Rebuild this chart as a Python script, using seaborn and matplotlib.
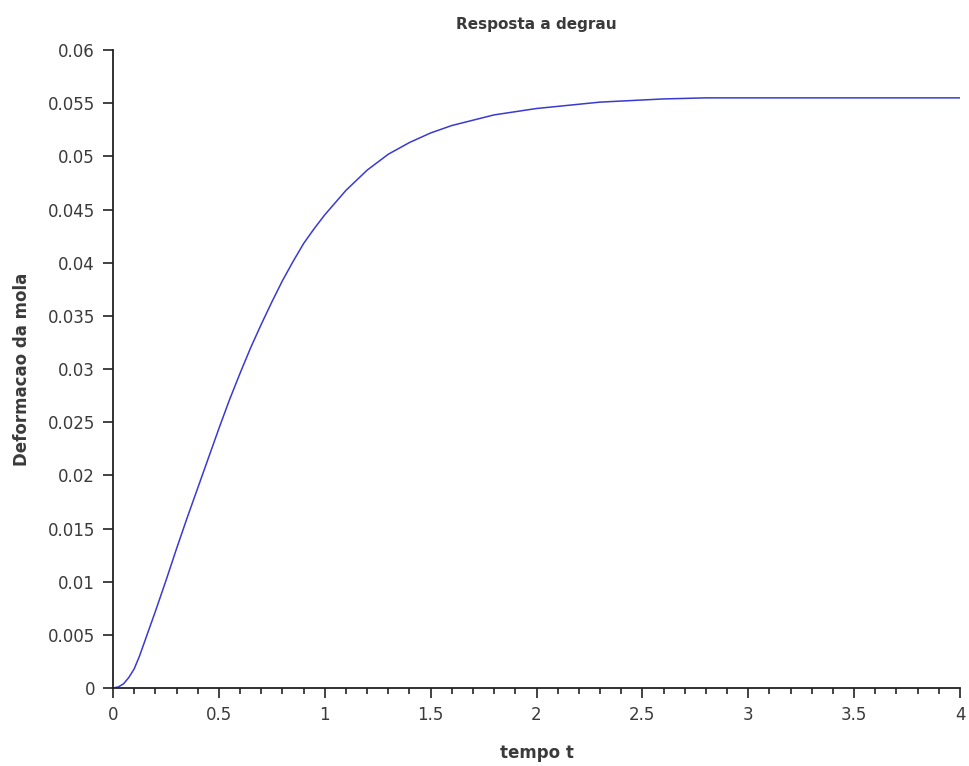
import matplotlib
matplotlib.use("Agg")
import matplotlib.pyplot as plt
import pandas as pd
import seaborn as sns
from matplotlib.ticker import MultipleLocator

# step response
tempo = [0, 0.025, 0.05, 0.075, 0.1, 0.125, 0.15, 0.175, 0.2, 0.25, 0.3, 0.35,
         0.4, 0.45, 0.5, 0.55, 0.6, 0.65, 0.7, 0.75, 0.8, 0.85, 0.9, 0.95, 1.0,
         1.1, 1.2, 1.3, 1.4, 1.5, 1.6, 1.7, 1.8, 1.9, 2.0, 2.1, 2.2, 2.3, 2.4,
         2.5, 2.6, 2.8, 3.0, 3.5, 4.0]
deformacao = [0, 0.0001, 0.0004, 0.0010, 0.0018, 0.0030, 0.0044, 0.0058,
              0.0072, 0.0101, 0.0131, 0.0160, 0.0188, 0.0216, 0.0244, 0.0271,
              0.0296, 0.0320, 0.0342, 0.0363, 0.0383, 0.0401, 0.0418, 0.0432,
              0.0445, 0.0468, 0.0487, 0.0502, 0.0513, 0.0522, 0.0529, 0.0534,
              0.0539, 0.0542, 0.0545, 0.0547, 0.0549, 0.0551, 0.0552, 0.0553,
              0.0554, 0.0555, 0.0555, 0.0555, 0.0555]

df = pd.DataFrame({"tempo": tempo, "deformacao": deformacao})

sns.set_style("ticks")
plt.rcParams["font.family"] = ["DejaVu Sans"]

fig = plt.figure(figsize=(9.7, 7.66), dpi=100)
ax = fig.add_axes([0.1165, 0.1018, 0.8732, 0.8329])

sns.lineplot(data=df, x="tempo", y="deformacao", ax=ax, color="#3a3ad0", lw=1.1)

ax.set_xlim(0, 4)
ax.set_ylim(0, 0.06)
ax.xaxis.set_major_locator(MultipleLocator(0.5))
ax.xaxis.set_minor_locator(MultipleLocator(0.1))
ax.yaxis.set_major_locator(MultipleLocator(0.005))
ax.xaxis.set_major_formatter(plt.FuncFormatter(lambda v, p: f"{v:g}"))
ax.yaxis.set_major_formatter(plt.FuncFormatter(lambda v, p: f"{v:g}"))

ax.tick_params(axis="both", which="major", length=7, width=1.2, color="#222222",
               labelsize=12, labelcolor="#3a3a3a", direction="out", pad=6)
ax.tick_params(axis="x", which="minor", length=4, width=1.2, color="#222222", direction="out")

for side in ["top", "right"]:
    ax.spines[side].set_visible(False)
for side in ["left", "bottom"]:
    ax.spines[side].set_linewidth(1.3)
    ax.spines[side].set_color("#222222")

ax.set_title("Resposta a degrau", fontsize=11, fontweight="bold", color="#3a3a3a", pad=15)
ax.set_xlabel("tempo t", fontsize=12, fontweight="bold", color="#3a3a3a", labelpad=14)
ax.set_ylabel("Deformacao da mola", fontsize=12, fontweight="bold", color="#3a3a3a", labelpad=12)

fig.savefig("out.png", dpi=100)
